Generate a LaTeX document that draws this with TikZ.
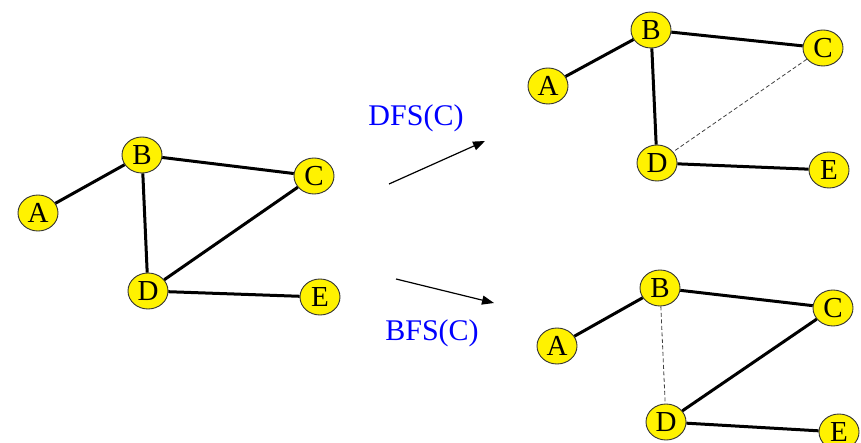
\documentclass[tikz,border=0pt]{standalone}
\usepackage{fontspec}
\setmainfont{Liberation Serif}
\usetikzlibrary{arrows.meta,shapes.geometric}
\begin{document}
\begin{tikzpicture}[x=1pt,y=-1pt,
  vert/.style={ellipse,draw=black!80,line width=0.9pt,fill=yellow,minimum width=40pt,minimum height=36pt,inner sep=0pt,font=\fontsize{29}{29}\selectfont},
  edge/.style={line width=3pt,black},
  tree/.style={line width=0.8pt,black!75,dash pattern=on 4pt off 2.5pt},
  arr/.style={line width=1.2pt,-{Triangle[length=12pt,width=9pt]}},
  lab/.style={text=blue,font=\fontsize{30}{30}\selectfont}]
\useasboundingbox (0,0) rectangle (861,443);
% left graph
\node[vert] (lA) at (38,213) {A};
\node[vert] (lB) at (142,155) {B};
\node[vert] (lC) at (314,176) {C};
\node[vert] (lD) at (148,291) {D};
\node[vert] (lE) at (320,297) {E};
\draw[edge] (lA) -- (lB);
\draw[edge] (lB) -- (lC);
\draw[edge] (lB) -- (lD);
\draw[edge] (lC) -- (lD);
\draw[edge] (lD) -- (lE);
% DFS graph
\node[vert] (tA) at (548,86) {A};
\node[vert] (tB) at (651,30) {B};
\node[vert] (tC) at (823,48) {C};
\node[vert] (tD) at (657,163) {D};
\node[vert] (tE) at (829,170) {E};
\draw[edge] (tA) -- (tB);
\draw[edge] (tB) -- (tC);
\draw[edge] (tB) -- (tD);
\draw[tree] (tC) -- (tD);
\draw[edge] (tD) -- (tE);
% BFS graph
\node[vert] (bA) at (557,346) {A};
\node[vert] (bB) at (660,288) {B};
\node[vert] (bC) at (833,308) {C};
\node[vert] (bD) at (666,422) {D};
\node[vert] (bE) at (839,432) {E};
\draw[edge] (bA) -- (bB);
\draw[edge] (bB) -- (bC);
\draw[tree] (bB) -- (bD);
\draw[edge] (bC) -- (bD);
\draw[edge] (bD) -- (bE);
% arrows and labels
\coordinate (a1s) at (389,184);
\coordinate (a1e) at (485,141);
\coordinate (a2s) at (396,279);
\coordinate (a2e) at (494,303);
\draw[arr] (a1s) -- (a1e);
\draw[arr] (a2s) -- (a2e);
\node[lab] (dfs) at (416,118) {DFS(C)};
\node[lab] (bfs) at (432,333) {BFS(C)};
\end{tikzpicture}
\end{document}
